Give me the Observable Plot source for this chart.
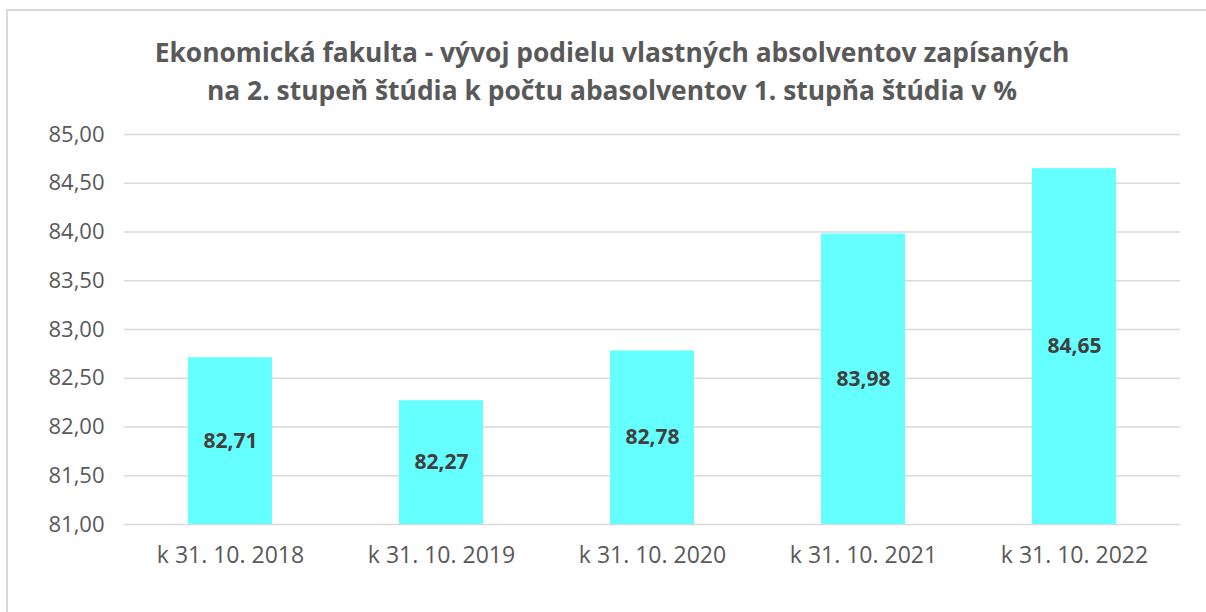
<!DOCTYPE html>
<html><head><meta charset="utf-8">
<script src="https://cdn.jsdelivr.net/npm/d3@7"></script>
<script src="https://cdn.jsdelivr.net/npm/@observablehq/plot@0.6"></script>
<style>
body{margin:0;background:#fff;width:1206px;height:612px;overflow:hidden;position:relative;font-family:"Open Sans",sans-serif}
#frame{position:absolute;left:6px;top:9px;width:1220px;height:640px;border:2px solid #d9d9d9;box-sizing:border-box}
#title{position:absolute;left:0;top:33px;width:1224px;text-align:center;font-weight:bold;font-size:26.4px;line-height:38px;color:#595959}
#chart{position:absolute;left:0;top:110px}
</style></head><body>
<div id="frame"></div>
<div id="title">Ekonomická fakulta - vývoj podielu vlastných absolventov zapísaných<br>na 2. stupeň štúdia k počtu abasolventov 1. stupňa štúdia v %</div>
<div id="chart"></div>
<script>
const categories = ["k 31. 10. 2018","k 31. 10. 2019","k 31. 10. 2020","k 31. 10. 2021","k 31. 10. 2022"];
const values = [82.71, 82.27, 82.78, 83.98, 84.65];
const yTicks = [81,81.5,82,82.5,83,83.5,84,84.5,85];
const yBase = 81;

const data = categories.map((c,i)=>({cat:c, value:values[i]}));
const fmt = v => v.toFixed(2).replace(".", ",");

const plot = Plot.plot({
  width:1206, height:470,
  marginTop:24, marginBottom:56, marginLeft:124, marginRight:26,
  style:{fontFamily:"'Open Sans', sans-serif", color:"#595959", background:"transparent"},
  x:{domain:categories, paddingInner:0.6, paddingOuter:0.3, label:null, tickSize:0, tickPadding:22},
  y:{domain:[81,85], ticks:yTicks, tickFormat:fmt, label:null, tickSize:0, tickPadding:20},
  marks:[
    Plot.ruleY(yTicks,{stroke:"#d9d9d9", strokeWidth:1.5}),
    Plot.barY(data,{x:"cat", y1:()=>yBase, y2:"value", fill:"#66ffff"}),
    Plot.text(data,{x:"cat", y:d=>(yBase+d.value)/2, text:d=>fmt(d.value), fontWeight:"bold", fontSize:21, fill:"#404040"})
  ]
});
plot.querySelectorAll("[aria-label='x-axis tick label'] text").forEach(t=>t.style.fontSize="23px");
plot.querySelectorAll("[aria-label='y-axis tick label'] text").forEach(t=>t.style.fontSize="22px");
document.getElementById("chart").appendChild(plot);
</script>
</body></html>
